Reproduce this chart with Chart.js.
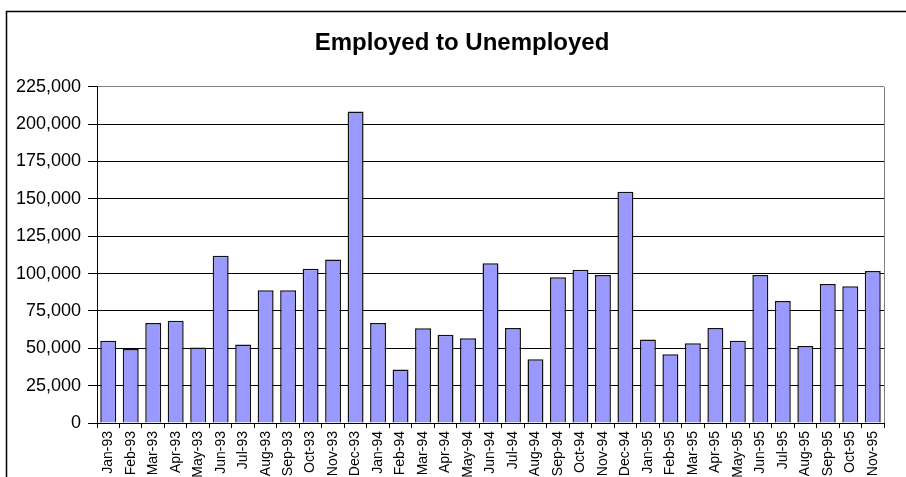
<!DOCTYPE html>
<html>
<head>
<meta charset="utf-8">
<title>Employed to Unemployed</title>
<script src="https://cdn.jsdelivr.net/npm/chart.js@4/dist/chart.umd.min.js"></script>
<style>
  html, body { margin: 0; padding: 0; background: #fff; }
  #chart { display: block; }
</style>
</head>
<body>
<canvas id="chart" width="906" height="477"></canvas>
<script>
const months = [
  "Jan-93", "Feb-93", "Mar-93", "Apr-93", "May-93", "Jun-93",
  "Jul-93", "Aug-93", "Sep-93", "Oct-93", "Nov-93", "Dec-93",
  "Jan-94", "Feb-94", "Mar-94", "Apr-94", "May-94", "Jun-94",
  "Jul-94", "Aug-94", "Sep-94", "Oct-94", "Nov-94", "Dec-94",
  "Jan-95", "Feb-95", "Mar-95", "Apr-95", "May-95", "Jun-95",
  "Jul-95", "Aug-95", "Sep-95", "Oct-95", "Nov-95"
];

const employedToUnemployed = [
  55000, 49500, 67000, 68500, 50500, 112000, 52500, 88800, 88800, 103300, 109400, 208500,
  67000, 35800, 63400, 59000, 56700, 106900, 63600, 42600, 97500, 102500, 99000, 154700,
  55800, 46000, 53300, 63600, 55100, 99000, 81700, 51600, 93100, 91500, 101800
];

const yMin = 0;
const yMax = 225000;
const yStep = 25000;

const font = "'Liberation Sans', Arial, sans-serif";

// outer chart frame, title centring and the grey right edge of the plot area
const frame = {
  id: "frame",
  afterLayout: function (chart) {
    if (chart.titleBlock) {
      chart.titleBlock.left = 40;
    }
  },
  beforeDraw: function (chart) {
    var ctx = chart.ctx;
    ctx.save();
    ctx.fillStyle = "#fff";
    ctx.fillRect(0, 0, chart.width, chart.height);
    ctx.strokeStyle = "#000";
    ctx.lineWidth = 1.5;
    ctx.strokeRect(6.5, 11.5, chart.width + 20, chart.height + 20);
    ctx.restore();
  },
  afterDatasetsDraw: function (chart) {
    var a = chart.chartArea;
    var ctx = chart.ctx;
    ctx.save();
    ctx.strokeStyle = "#808080";
    ctx.lineWidth = 1;
    ctx.beginPath();
    ctx.moveTo(Math.round(a.right) + 0.5, a.top);
    ctx.lineTo(Math.round(a.right) + 0.5, a.bottom);
    ctx.stroke();
    ctx.restore();
  }
};

var ctx = document.getElementById("chart").getContext("2d");
var myChart = new Chart(ctx, {
  type: "bar",
  data: {
    labels: months,
    datasets: [
      {
        label: "Employed to Unemployed",
        data: employedToUnemployed,
        backgroundColor: "#9999FF",
        borderColor: "#111",
        borderWidth: 1.5,
        barPercentage: 0.71,
        categoryPercentage: 1.0,
      },
    ],
  },
  options: {
    responsive: false,
    animation: false,
    devicePixelRatio: 1,
    layout: {
      padding: { left: 0, right: 22, top: 0, bottom: 0 },
    },
    plugins: {
      legend: { display: false },
      tooltip: { enabled: false },
      title: {
        display: true,
        text: "Employed to Unemployed",
        color: "#000",
        font: { family: font, size: 24, weight: "bold", lineHeight: 1.2 },
        padding: { top: 29, bottom: 29 },
      },
    },
    scales: {
      x: {
        grid: {
          offset: true,
          drawOnChartArea: false,
          drawTicks: true,
          tickLength: 5,
          color: "#000",
        },
        border: { color: "#000", width: 1 },
        ticks: {
          autoSkip: false,
          minRotation: 90,
          maxRotation: 90,
          padding: 3,
          color: "#000",
          font: { family: font, size: 14 },
        },
        afterFit: function (scale) {
          scale.height = 54;
        },
      },
      y: {
        min: yMin,
        max: yMax,
        grid: {
          color: function (c) {
            return c.tick && c.tick.value === yMax ? "#808080" : "#000";
          },
          tickColor: "#000",
          tickLength: 9,
          lineWidth: 1,
        },
        border: { color: "#000", width: 1 },
        ticks: {
          stepSize: yStep,
          padding: 7,
          color: "#000",
          font: { family: font, size: 18 },
          callback: function (v) {
            return Number(v).toLocaleString("en-US");
          },
        },
        afterFit: function (scale) {
          scale.width = 97;
        },
      },
    },
  },
  plugins: [frame],
});
</script>
</body>
</html>
